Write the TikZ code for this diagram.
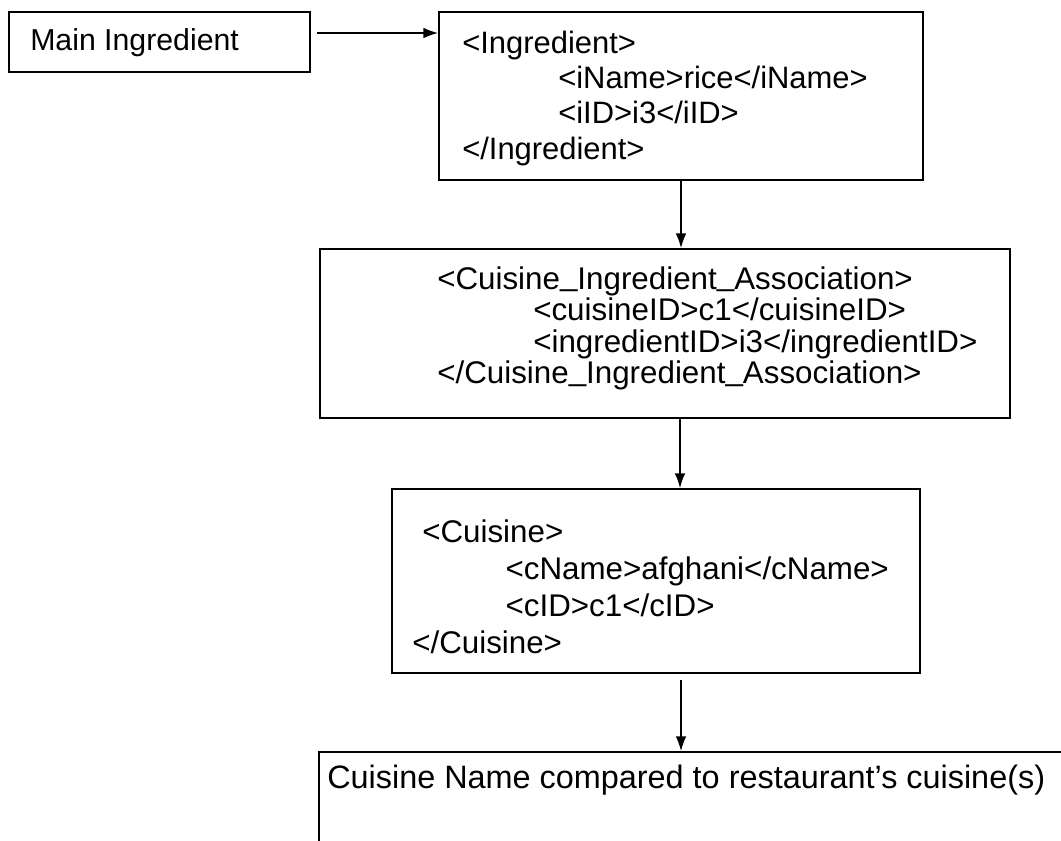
\documentclass[tikz,border=0pt]{standalone}
\usepackage{fontspec}
\setmainfont{Liberation Sans}
\usetikzlibrary{arrows.meta,fit}
% underscore set closer to the baseline
\newcommand\lowbar{\raisebox{2.5pt}{\_}}
\begin{document}
\begin{tikzpicture}[x=0.75pt,y=-0.75pt,
  box/.style={draw, line width=1.4pt, rectangle, inner sep=0pt},
  txt/.style={anchor=base west, inner sep=0pt},
  lead/.style={line width=1.1pt, -{Latex[length=11pt,width=8pt]}}]
\useasboundingbox (0,0) rectangle (1061,840);
\clip (0,0) rectangle (1061,840);

% boxes
\node (mainbox)   [box, fit={(9,12) (310,72)}] {};
\node (ingbox)    [box, fit={(439,12) (923,180)}] {};
\node (assocbox)  [box, fit={(320,249) (1010,418)}] {};
\node (cuisbox)   [box, fit={(392,489) (920,673)}] {};
\node (resultbox) [box, fit={(319,752) (1075,860)}] {};

% box texts
\node (maintxt) [txt, font=\fontsize{22.7}{26}\selectfont] at (30,50) {Main Ingredient};

\node (ingtxt) [txt, font=\fontsize{23.2}{26.6}\selectfont] at (462,53)
  {\begin{tabular}[t]{@{}l@{}}
   <Ingredient>\\
   \hspace*{72pt}<iName>rice</iName>\\
   \hspace*{72pt}<iID>i3</iID>\\
   </Ingredient>
   \end{tabular}};

\node (assoctxt) [txt, font=\fontsize{23.5}{22.2}\selectfont] at (437,289)
  {\begin{tabular}[t]{@{}l@{}}
   <Cuisine\lowbar Ingredient\lowbar Association>\\
   \hspace*{72pt}<cuisineID>c1</cuisineID>\\
   \hspace*{72pt}<ingredientID>i3</ingredientID>\\
   </Cuisine\lowbar Ingredient\lowbar Association>
   \end{tabular}};

\node (cuistxt) [txt, font=\fontsize{23.5}{27.75}\selectfont] at (412,542)
  {\begin{tabular}[t]{@{}l@{}}
   \hspace*{7.5pt}<Cuisine>\\
   \hspace*{70pt}<cName>afghani</cName>\\
   \hspace*{70pt}<cID>c1</cID>\\
   </Cuisine>
   \end{tabular}};

\node (resulttxt) [txt, font=\fontsize{24.3}{26}\selectfont] at (327,788)
  {Cuisine Name compared to restaurant's cuisine(s)};

% connectors
\coordinate (a1) at (317,33);
\coordinate (a2) at (681,0);
\coordinate (a3) at (680,0);
\coordinate (a4) at (681,680);
\draw[lead] (a1) -- (a1 -| ingbox.west);
\draw[lead] (a2 |- ingbox.south) -- (a2 |- assocbox.north);
\draw[lead] (a3 |- assocbox.south) -- (a3 |- cuisbox.north);
\draw[lead] (a4) -- (a4 |- resultbox.north);
\end{tikzpicture}
\end{document}
